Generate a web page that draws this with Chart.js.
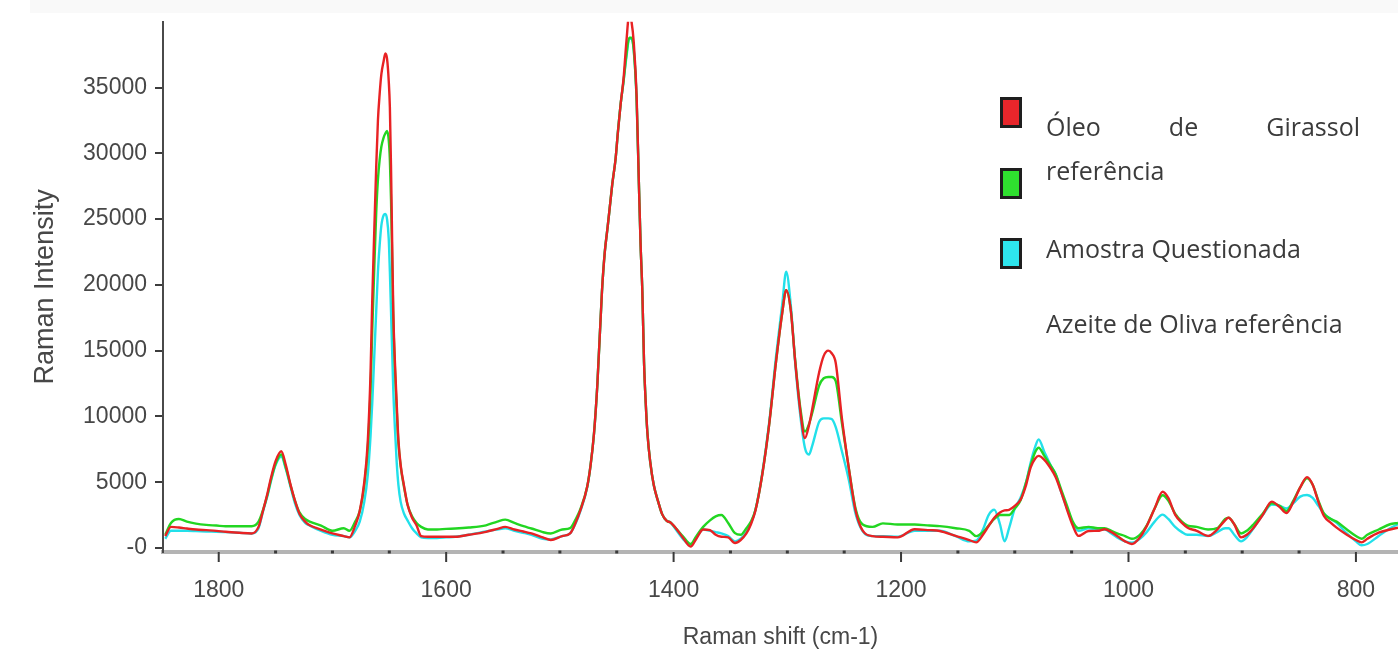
<!DOCTYPE html>
<html>
<head>
<meta charset="utf-8">
<title>Raman</title>
<script src="https://cdn.jsdelivr.net/npm/chart.js@4.4.1/dist/chart.umd.min.js"></script>
<style>
html, body { margin: 0; padding: 0; background: #fff; }
#wrap { position: relative; width: 1398px; height: 651px; overflow: hidden; }
#band { position: absolute; left: 30px; top: 0; width: 1368px; height: 13px; background: #f9f9f9; }
#chart { position: absolute; left: 0; top: 0; }
.box { position: absolute; left: 1000px; width: 16px; height: 25px; border: 3px solid #1e1e1e; }
.txt { position: absolute; left: 1046px; font-family: 'Open Sans', sans-serif; font-size: 25px; line-height: 25px; color: #3b3b3b; white-space: nowrap; }
</style>
</head>
<body>
<div id="wrap">
  <div id="band"></div>
  <canvas id="chart" width="1398" height="651"></canvas>
  <div class="box" style="top:97px;background:#e8262b"></div>
  <div class="box" style="top:168px;background:#2fe02f"></div>
  <div class="box" style="top:238px;background:#2ee6ee"></div>
  <div class="txt" style="top:114px;width:314px;white-space:normal;text-align:justify;text-align-last:justify">Óleo de Girassol</div>
  <div class="txt" style="top:158px">referência</div>
  <div class="txt" style="top:236px">Amostra Questionada</div>
  <div class="txt" style="top:311px">Azeite de Oliva referência</div>
</div>
<script>
// Raman shift (cm-1), left to right
var wavenumber = [
  1847, 1842, 1835, 1828, 1820, 1811, 1802, 1794, 1782, 1771, 1765, 1761, 1757, 1754, 1750, 1745, 1741, 1737, 1733, 1729, 1724, 1720, 1710, 1700, 1690,
  1685, 1680, 1676, 1672, 1669, 1666.5, 1665, 1663.5, 1661.5, 1660, 1658.5, 1657, 1655, 1653.5, 1652, 1650.5, 1649.5, 1648.5, 1647.5, 1646.5, 1645, 1643.5, 1642, 1640, 1637, 1634, 1630, 1626, 1622, 1616,
  1608, 1600, 1592, 1580, 1565, 1555, 1548, 1540, 1532, 1525, 1515, 1508, 1498, 1491,
  1486, 1482, 1476, 1473, 1470, 1467, 1463, 1460.5, 1458, 1456, 1454, 1451, 1449, 1446.5, 1444, 1441.5, 1439, 1437, 1435, 1432.5, 1430.5, 1429, 1427.5, 1426, 1424.5, 1423, 1420.5, 1417.5, 1413.5, 1410, 1406, 1403,
  1398, 1392, 1385, 1380, 1374, 1368, 1363, 1358, 1352, 1346, 1341, 1336, 1332,
  1328, 1322, 1316, 1310, 1304.5, 1301, 1297, 1293, 1288.5, 1284.5, 1281, 1278, 1272, 1268, 1264, 1261, 1257.5, 1252, 1246, 1240, 1234, 1225, 1216,
  1203, 1188, 1175, 1166, 1152, 1140, 1134, 1128, 1123, 1118, 1113, 1109, 1105, 1100, 1095, 1090, 1086, 1082, 1079, 1074, 1068, 1064, 1059, 1054, 1049, 1044,
  1035, 1027, 1021, 1015, 1010, 1003, 997, 990, 984, 977, 970, 965, 959, 953, 948, 940, 930, 922, 915, 912, 907, 901, 896, 890, 882, 874, 867, 861, 855, 849, 843, 838, 833, 828, 822, 817, 808, 800, 795, 790, 780, 770, 763
];

// red trace
var redTrace = [
  900, 1600, 1550, 1475, 1400, 1350, 1300, 1225, 1150, 1100, 1600, 2850, 4200, 5350, 6600, 7350, 6300, 4850, 3600, 2600, 2000, 1720, 1400, 1100, 900,
  800, 1700, 2800, 5000, 8000, 13300, 18800, 23300, 29000, 32500, 34500, 36000, 37000, 37600, 37200, 35500, 33500, 29000, 23300, 18000, 14000, 11000, 8200, 6300, 4700, 3300, 2300, 1700, 900, 850,
  850, 850, 850, 1000, 1225, 1450, 1600, 1400, 1250, 1100, 800, 600, 900, 1100,
  1950, 2850, 4650, 6300, 8700, 12500, 19500, 22500, 24400, 26000, 27600, 29600, 31600, 33800, 35700, 38500, 40600, 40000, 38400, 34300, 27600, 23000, 19500, 14100, 11000, 8700, 6500, 4800, 3500, 2550, 2050, 1950,
  1500, 800, 100, 700, 1400, 1350, 1000, 850, 800, 370, 600, 1100, 1800,
  2850, 5600, 9350, 14100, 17850, 19600, 18100, 14100, 10350, 8350, 9300, 10600, 13350, 14600, 15000, 14800, 14100, 9850, 6100, 2850, 1350, 900, 850,
  800, 1420, 1350, 1290, 915, 600, 420, 1000, 1660, 2300, 2700, 2850, 2900, 3200, 3650, 4800, 6130, 6800, 7000, 6700, 6000, 5380, 4200, 2900, 1700, 915,
  1290, 1300, 1420, 1200, 915, 500, 300, 800, 1660, 3000, 4270, 3800, 2530, 1900, 1540, 1300, 915, 1400, 2100, 2290, 1800, 800, 1000, 1540, 2500, 3520, 3100, 2650, 3500, 4600, 5380, 4800, 3500, 2410, 1900, 1540, 1000, 600, 420, 700, 1160, 1400, 1540
];

// green trace
var greenTrace = [
  1000, 1900, 2200, 2000, 1850, 1750, 1700, 1650, 1650, 1650, 2000, 2900, 4100, 5200, 6400, 7100, 6100, 4800, 3600, 2700, 2200, 2000, 1700, 1300, 1500,
  1300, 2000, 2800, 4800, 7500, 12000, 16500, 20500, 25500, 28000, 29500, 30500, 31200, 31500, 31700, 31000, 29500, 26500, 22000, 17500, 13500, 10500, 8000, 6200, 4600, 3300, 2400, 1900, 1600, 1400,
  1400, 1450, 1475, 1550, 1720, 2000, 2150, 1900, 1650, 1475, 1200, 1100, 1400, 1500,
  2200, 2950, 4650, 6300, 8700, 12500, 19500, 22500, 24400, 26000, 27600, 29600, 31600, 33800, 35500, 37500, 38800, 38800, 37800, 34000, 27600, 23000, 19500, 14100, 11000, 8700, 6500, 4800, 3500, 2550, 2050, 1950,
  1500, 900, 300, 900, 1600, 2100, 2400, 2500, 1900, 1120, 1000, 1500, 2000,
  2900, 5600, 9350, 14100, 17850, 19600, 18100, 14200, 10600, 8850, 9400, 10300, 12350, 12900, 13000, 13000, 12700, 9500, 6100, 3000, 1800, 1600, 1870,
  1780, 1780, 1700, 1660, 1500, 1300, 900, 1200, 1700, 2200, 2500, 2500, 2500, 3000, 3600, 5000, 6300, 7300, 7620, 7000, 6200, 5600, 4400, 3200, 2000, 1500,
  1600, 1500, 1500, 1300, 1100, 900, 700, 1000, 1700, 3000, 4000, 3600, 2600, 2000, 1700, 1600, 1400, 1500, 2200, 2300, 1800, 1100, 1300, 1800, 2600, 3400, 3200, 2800, 3600, 4600, 5300, 4800, 3600, 2600, 2200, 2000, 1400, 900, 700, 1000, 1400, 1800, 1900
];

// cyan trace
var cyanTrace = [
  700, 1300, 1300, 1300, 1280, 1250, 1230, 1200, 1150, 1100, 1500, 2800, 4000, 5100, 6300, 6950, 6000, 4700, 3400, 2500, 1900, 1700, 1300, 1000, 900,
  800, 1300, 2000, 3500, 5500, 8500, 11000, 14000, 18000, 21000, 23000, 24500, 25300, 25400, 25000, 23500, 21000, 18000, 15000, 12000, 9000, 6500, 4800, 3500, 2600, 2100, 1500, 1100, 800, 750,
  750, 800, 850, 1000, 1250, 1400, 1500, 1300, 1150, 1000, 700, 650, 900, 1100,
  1900, 2800, 4600, 6300, 8700, 12500, 19500, 22500, 24400, 26000, 27600, 29600, 31600, 33800, 35500, 37300, 38700, 38700, 37800, 34000, 27600, 23000, 19500, 14100, 11000, 8700, 6500, 4800, 3500, 2550, 2050, 1950,
  1400, 700, 200, 800, 1400, 1300, 1200, 1100, 900, 500, 700, 1200, 1900,
  2900, 5700, 9500, 14500, 18500, 21000, 18500, 14000, 10000, 7600, 7100, 7800, 9600, 9850, 9850, 9800, 9200, 7350, 5200, 2600, 1300, 900, 900,
  850, 1300, 1300, 1300, 900, 500, 550, 1400, 2500, 2900, 1800, 500, 1500, 3000, 3800, 5000, 6500, 7700, 8250, 7300, 6200, 5600, 4200, 3000, 1900, 1300,
  1500, 1400, 1400, 1100, 800, 500, 400, 700, 1200, 2000, 2530, 2200, 1600, 1200, 1000, 1000, 900, 1200, 1500, 1500, 1000, 500, 800, 1500, 2500, 3300, 3200, 3000, 3400, 3900, 4020, 3800, 3200, 2600, 2200, 1900, 1100, 500, 200, 300, 900, 1500, 1800
];

var seriesNames = ['Óleo de Girassol referência', 'Amostra Questionada', 'Azeite de Oliva referência'];
var xLabelTicks = [800, 1000, 1200, 1400, 1600, 1800];
var xMinorTicks = [800, 850, 900, 950, 1000, 1050, 1100, 1150, 1200, 1250, 1300, 1350, 1400, 1450, 1500, 1550, 1600, 1650, 1700, 1750, 1800];
var yLabelTicks = [0, 5000, 10000, 15000, 20000, 25000, 30000, 35000];

function toPoints(values) {
    return wavenumber.map(function (w, i) { return { x: w, y: values[i] }; });
}

// little tick marks on the x axis line (long ones under the labels, dots between)
var axisMarks = {
    id: 'axisMarks',
    afterDraw: function (chart) {
        var ctx = chart.ctx;
        var xs = chart.scales.x;
        var y0 = chart.chartArea.bottom;
        ctx.save();
        ctx.fillStyle = '#3a3a3a';
        xMinorTicks.forEach(function (v) {
            var px = xs.getPixelForValue(v);
            if (xLabelTicks.indexOf(v) >= 0) {
                ctx.fillRect(px - 1, y0, 2, 10);
            } else {
                ctx.fillRect(px - 1.5, y0 - 1.5, 3, 3);
            }
        });
        ctx.restore();
    }
};

var lineStyle = {
    borderWidth: 2.4,
    pointRadius: 0,
    cubicInterpolationMode: 'monotone',
    fill: false
};

const chart = new Chart(document.getElementById('chart'), {
    type: 'line',
    data: {
        datasets: [
            Object.assign({ label: seriesNames[0], data: toPoints(redTrace), borderColor: 'rgb(232,34,36)' }, lineStyle),
            Object.assign({ label: seriesNames[1], data: toPoints(greenTrace), borderColor: 'rgb(34,214,34)' }, lineStyle),
            Object.assign({ label: seriesNames[2], data: toPoints(cyanTrace), borderColor: 'rgb(34,224,234)' }, lineStyle)
        ]
    },
    options: {
        responsive: false,
        animation: false,
        layout: { padding: { top: 13, right: 0, bottom: 0, left: 0 } },
        plugins: {
            legend: { display: false },
            tooltip: { enabled: false }
        },
        scales: {
            x: {
                type: 'linear',
                reverse: true,
                min: 763,
                max: 1849,
                afterBuildTicks: function (s) { s.ticks = xLabelTicks.map(function (v) { return { value: v }; }); },
                afterFit: function (s) { s.height = 99; },
                grid: { display: false, drawTicks: false },
                border: { display: true, color: '#b4b4b4', width: 4 },
                ticks: {
                    color: '#474747',
                    font: { family: 'Liberation Sans', size: 23 },
                    padding: 25,
                    maxRotation: 0,
                    autoSkip: false,
                    callback: function (v) { return String(v); }
                },
                title: {
                    display: true,
                    text: 'Raman shift (cm-1)',
                    color: '#474747',
                    font: { family: 'Liberation Sans', size: 23 },
                    padding: 0
                }
            },
            y: {
                type: 'linear',
                min: -310,
                max: 40000,
                afterBuildTicks: function (s) { s.ticks = yLabelTicks.map(function (v) { return { value: v }; }); },
                afterFit: function (s) { s.width = 163; },
                grid: { display: true, drawOnChartArea: false, drawTicks: true, tickLength: 8, color: '#3c3c3c', lineWidth: 2 },
                border: { display: true, color: '#4a4a4a', width: 2, dash: [2, 4] },
                ticks: {
                    color: '#474747',
                    font: { family: 'Liberation Sans', size: 23 },
                    padding: 8,
                    callback: function (v) { return v === 0 ? '-0' : String(v); }
                },
                title: {
                    display: true,
                    text: 'Raman Intensity',
                    color: '#474747',
                    font: { family: 'Liberation Sans', size: 27 },
                    padding: { top: 29, bottom: 0 }
                }
            }
        }
    },
    plugins: [axisMarks]
});
</script>
</body>
</html>
